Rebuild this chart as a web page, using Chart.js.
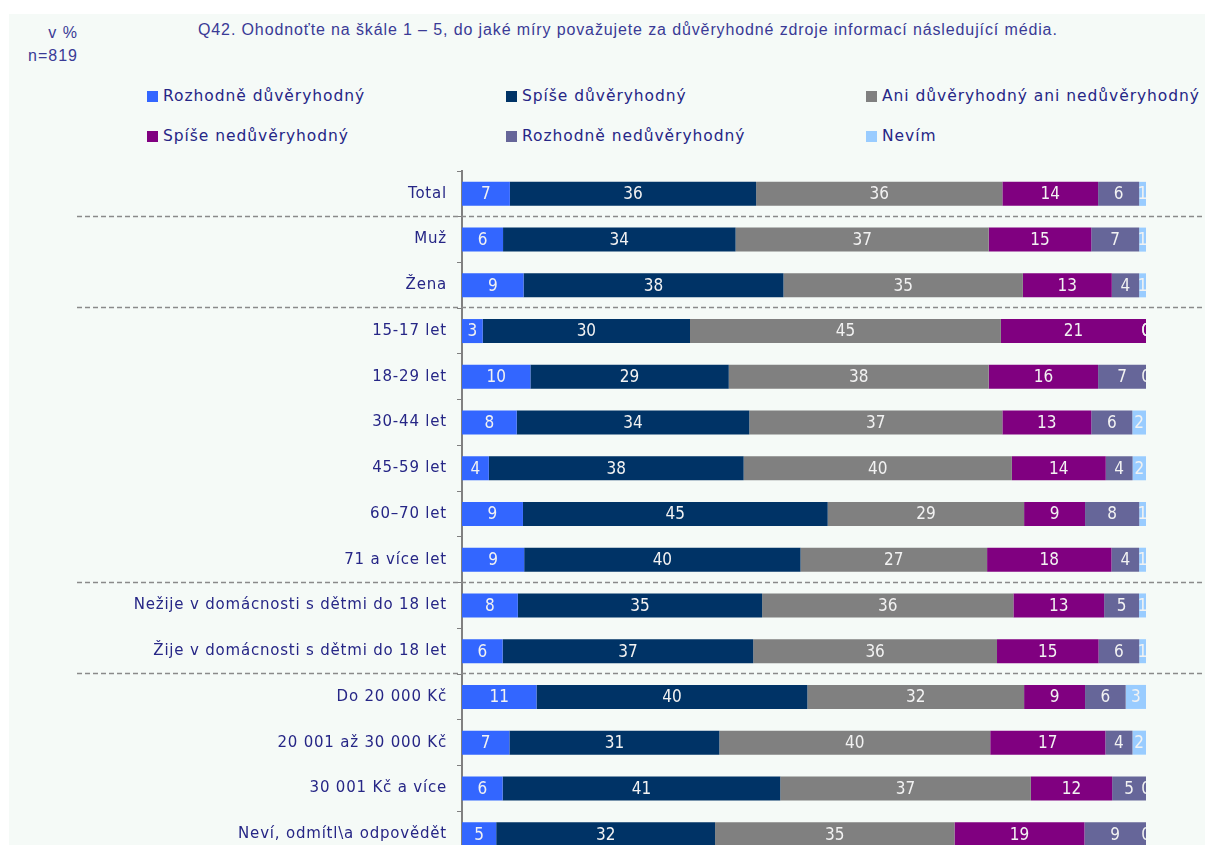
<!DOCTYPE html>
<html><head><meta charset="utf-8">
<script src="https://cdn.jsdelivr.net/npm/chart.js@4"></script>
<style>
html,body{margin:0;padding:0;width:1205px;height:845px;overflow:hidden;background:#fff;}
#bg{position:absolute;left:9px;top:14px;width:1196px;height:831px;background:#f5faf7;}
.t{position:absolute;white-space:nowrap;color:#2b2b8c;font-family:"Liberation Sans",Arial,sans-serif;}
#title{left:198px;top:21px;font-size:16px;color:#3a3a96;letter-spacing:0.88px;}
#unit{right:1127px;top:21px;font-size:16px;text-align:right;color:#3a3a96;line-height:23px;letter-spacing:1px;}
.lg{position:absolute;white-space:nowrap;font-family:"DejaVu Sans",sans-serif;font-size:15.5px;color:#262686;letter-spacing:0.95px;}
.lg span.sq{display:inline-block;width:11px;height:11px;margin-right:5px;vertical-align:-1px;}
#wrap{position:absolute;left:0;top:0;width:1205px;height:864px;}
</style></head>
<body>
<div id="bg"></div>
<div class="t" id="unit">v %<br>n=819</div>
<div class="t" id="title">Q42. Ohodnoťte na škále 1 – 5, do jaké míry považujete za důvěryhodné zdroje informací následující média.</div>
<div id="legend"></div>
<div id="wrap"><canvas id="c"></canvas></div>
<script>
const categories = ["Total","Muž","Žena","15-17 let","18-29 let","30-44 let","45-59 let","60–70 let","71 a více let","Nežije v domácnosti s dětmi do 18 let","Žije v domácnosti s dětmi do 18 let","Do 20 000 Kč","20 001 až 30 000 Kč","30 001 Kč a více","Neví, odmítl\\a odpovědět"];
const seriesNames = ["Rozhodně důvěryhodný","Spíše důvěryhodný","Ani důvěryhodný ani nedůvěryhodný","Spíše nedůvěryhodný","Rozhodně nedůvěryhodný","Nevím"];
const rozhodneDuv = [7,6,9,3,10,8,4,9,9,8,6,11,7,6,5];
const spiseDuv    = [36,34,38,30,29,34,38,45,40,35,37,40,31,41,32];
const ani         = [36,37,35,45,38,37,40,29,27,36,36,32,40,37,35];
const spiseNeduv  = [14,15,13,21,16,13,14,9,18,13,15,9,17,12,19];
const rozhodneNeduv = [6,7,4,0,7,6,4,8,4,5,6,6,4,5,9];
const nevim       = [1,1,1,0,0,2,2,1,1,1,1,3,2,0,0];
const seriesColors = ["#3366ff","#003366","#808080","#800080","#666699","#99ccff"];
const separatorsAfter = [0,2,8,10];

const series = [rozhodneDuv,spiseDuv,ani,spiseNeduv,rozhodneNeduv,nevim];
const rowSums = categories.map((_,j)=>series.reduce((a,s)=>a+s[j],0));

// HTML legend in a 3-column grid
const legendPos = [[147,95],[506,95],[866,95],[147,135],[506,135],[866,135]];
const lg = document.getElementById('legend');
seriesNames.forEach((n,i)=>{
  const d=document.createElement('div');
  d.className='lg';
  d.style.left=legendPos[i][0]+'px';
  d.style.top=(legendPos[i][1]-8)+'px';
  d.innerHTML='<span class="sq" style="background:'+seriesColors[i]+'"></span>'+n;
  lg.appendChild(d);
});

const spacingPlugin = {
  id:'spacing',
  beforeDraw(chart){ chart.ctx.letterSpacing='0.8px'; }
};
const labelPlugin = {
  id:'vals',
  afterDatasetsDraw(chart){
    const ctx=chart.ctx, a=chart.chartArea;
    ctx.save();
    ctx.letterSpacing='0px';
    ctx.beginPath(); ctx.rect(a.left,a.top,a.right-a.left,a.bottom-a.top); ctx.clip();
    ctx.fillStyle='#f2f2f2';
    ctx.font='17px "Liberation Sans Narrow","DejaVu Sans Condensed",sans-serif';
    ctx.textAlign='center'; ctx.textBaseline='middle';
    chart.data.datasets.forEach((ds,i)=>{
      chart.getDatasetMeta(i).data.forEach((bar,j)=>{
        const cx=(bar.x+bar.base)/2;
        ctx.fillText(String(ds.raw[j]),cx,bar.y+1);
      });
    });
    ctx.restore();
  }
};
const sepPlugin = {
  id:'seps',
  afterDraw(chart){
    const ctx=chart.ctx, y=chart.scales.y;
    ctx.save();
    ctx.strokeStyle='#8a8a8a'; ctx.lineWidth=1.5; ctx.setLineDash([5,3]);
    separatorsAfter.forEach(i=>{
      const py=Math.round((y.getPixelForValue(i)+y.getPixelForValue(i+1))/2)-0.5;
      ctx.beginPath(); ctx.moveTo(77,py); ctx.lineTo(1205,py); ctx.stroke();
    });
    ctx.restore();
  }
};

new Chart(document.getElementById('c'),{
  type:'bar',
  data:{
    labels:categories,
    datasets:series.map((s,i)=>({
      label:seriesNames[i],
      raw:s,
      data:s.map((v,j)=>v/rowSums[j]*100),
      backgroundColor:seriesColors[i],
      borderWidth:0,
      categoryPercentage:1,
      barPercentage:0.525
    }))
  },
  options:{
    indexAxis:'y',
    responsive:true,
    maintainAspectRatio:false,
    animation:false,
    devicePixelRatio:1,
    layout:{padding:{top:171,right:59,bottom:7,left:0}},
    plugins:{legend:{display:false},tooltip:{enabled:false}},
    scales:{
      x:{display:false,stacked:true,min:0,max:100},
      y:{
        stacked:true,
        grid:{display:true,drawOnChartArea:false,drawTicks:true,tickLength:5,color:'#808080',offset:true},
        border:{display:true,color:'#808080',width:2},
        ticks:{color:'#262686',font:{family:'"DejaVu Sans", sans-serif',size:15},padding:10},
        afterFit(s){s.width=462; s.paddingTop=0; s.paddingBottom=0;}
      }
    }
  },
  plugins:[spacingPlugin,labelPlugin,sepPlugin]
});
</script>
</body></html>
